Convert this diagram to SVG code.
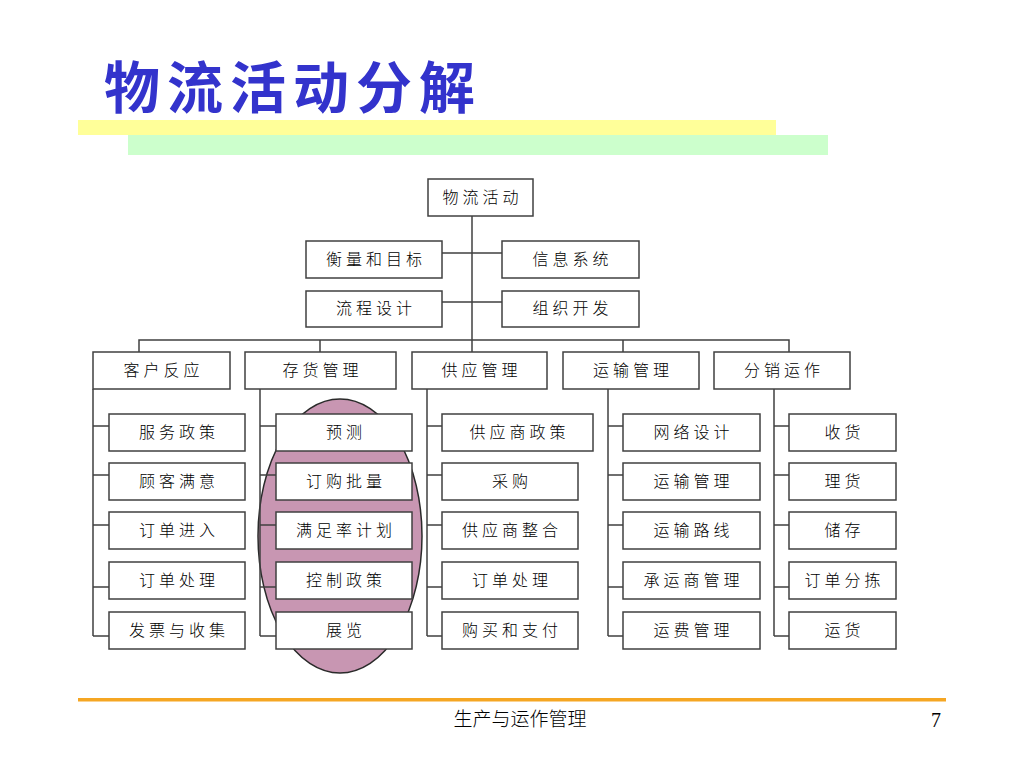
<svg xmlns="http://www.w3.org/2000/svg" width="1024" height="768" viewBox="0 0 1024 768">
<style>
.box{fill:#ffffff;stroke:#404040;stroke-width:1.5}
.lbl{font-family:"Noto Sans CJK SC","Noto Sans",sans-serif;font-size:16px;font-weight:300;fill:#000;text-anchor:middle;letter-spacing:4px}
.ln{fill:none;stroke:#404040;stroke-width:1.5}
</style>
<rect width="1024" height="768" fill="#ffffff"/>
<rect x="78" y="120" width="698" height="15" fill="#ffff99"/>
<rect x="128" y="135" width="700" height="20" fill="#ccffcc"/>
<text x="104" y="108" font-family="Noto Sans CJK SC, sans-serif" font-size="56" font-weight="bold" fill="#3333cc" letter-spacing="7">物流活动分解</text>

<ellipse id="highlight" cx="340" cy="536" rx="82" ry="137" fill="#c896b2" stroke="#2a2a2a" stroke-width="1.5"/>

<g id="connectors" class="ln">
<path d="M472 216V352"/>
<path d="M442 253H502M442 302H502"/>
<path d="M139 352V340H789V352M320 340V352M623 340V352"/>
<path d="M93 389V636M93 426H109M93 475H109M93 525H109M93 587H109M93 636H109"/>
<path d="M260 389V636M260 426H276M260 475H276M260 525H276M260 587H276M260 636H276"/>
<path d="M427 389V636M427 426H442M427 475H442M427 525H442M427 587H442M427 636H442"/>
<path d="M608 389V636M608 426H623M608 475H623M608 525H623M608 587H623M608 636H623"/>
<path d="M774 389V636M774 426H789M774 475H789M774 525H789M774 587H789M774 636H789"/>
</g>

<g id="n-root"><rect class="box" x="428" y="179" width="105" height="37"/><text class="lbl" x="482.5" y="203">物流活动</text></g>
<g id="n-hlmb"><rect class="box" x="306" y="241" width="136" height="37"/><text class="lbl" x="376" y="265">衡量和目标</text></g>
<g id="n-lcsj"><rect class="box" x="306" y="291" width="136" height="36"/><text class="lbl" x="376" y="314">流程设计</text></g>
<g id="n-xxxt"><rect class="box" x="502" y="241" width="137" height="37"/><text class="lbl" x="572.5" y="265">信息系统</text></g>
<g id="n-zzkf"><rect class="box" x="502" y="291" width="137" height="36"/><text class="lbl" x="572.5" y="314">组织开发</text></g>

<g id="n-khfy"><rect class="box" x="93" y="352" width="137" height="37"/><text class="lbl" x="163.5" y="376">客户反应</text></g>
<g id="n-chgl"><rect class="box" x="245" y="352" width="151" height="37"/><text class="lbl" x="322.5" y="376">存货管理</text></g>
<g id="n-gygl"><rect class="box" x="412" y="352" width="135" height="37"/><text class="lbl" x="481.5" y="376">供应管理</text></g>
<g id="n-ysgl"><rect class="box" x="563" y="352" width="136" height="37"/><text class="lbl" x="633" y="376">运输管理</text></g>
<g id="n-fxyz"><rect class="box" x="714" y="352" width="136" height="37"/><text class="lbl" x="784" y="376">分销运作</text></g>

<g id="n-c1-1"><rect class="box" x="109" y="414" width="136" height="37"/><text class="lbl" x="179" y="438">服务政策</text></g>
<g id="n-c1-2"><rect class="box" x="109" y="463" width="136" height="37"/><text class="lbl" x="179" y="487">顾客满意</text></g>
<g id="n-c1-3"><rect class="box" x="109" y="512" width="136" height="37"/><text class="lbl" x="179" y="536">订单进入</text></g>
<g id="n-c1-4"><rect class="box" x="109" y="562" width="136" height="37"/><text class="lbl" x="179" y="586">订单处理</text></g>
<g id="n-c1-5"><rect class="box" x="109" y="612" width="136" height="37"/><text class="lbl" x="179" y="636">发票与收集</text></g>

<g id="n-c2-1"><rect class="box" x="276" y="414" width="136" height="37"/><text class="lbl" x="346" y="438">预测</text></g>
<g id="n-c2-2"><rect class="box" x="276" y="463" width="136" height="37"/><text class="lbl" x="346" y="487">订购批量</text></g>
<g id="n-c2-3"><rect class="box" x="276" y="512" width="136" height="37"/><text class="lbl" x="346" y="536">满足率计划</text></g>
<g id="n-c2-4"><rect class="box" x="276" y="562" width="136" height="37"/><text class="lbl" x="346" y="586">控制政策</text></g>
<g id="n-c2-5"><rect class="box" x="276" y="612" width="136" height="37"/><text class="lbl" x="346" y="636">展览</text></g>

<g id="n-c3-1"><rect class="box" x="442" y="414" width="151" height="37"/><text class="lbl" x="519.5" y="438">供应商政策</text></g>
<g id="n-c3-2"><rect class="box" x="442" y="463" width="136" height="37"/><text class="lbl" x="512" y="487">采购</text></g>
<g id="n-c3-3"><rect class="box" x="442" y="512" width="136" height="37"/><text class="lbl" x="512" y="536">供应商整合</text></g>
<g id="n-c3-4"><rect class="box" x="442" y="562" width="136" height="37"/><text class="lbl" x="512" y="586">订单处理</text></g>
<g id="n-c3-5"><rect class="box" x="442" y="612" width="136" height="37"/><text class="lbl" x="512" y="636">购买和支付</text></g>

<g id="n-c4-1"><rect class="box" x="623" y="414" width="137" height="37"/><text class="lbl" x="693.5" y="438">网络设计</text></g>
<g id="n-c4-2"><rect class="box" x="623" y="463" width="137" height="37"/><text class="lbl" x="693.5" y="487">运输管理</text></g>
<g id="n-c4-3"><rect class="box" x="623" y="512" width="137" height="37"/><text class="lbl" x="693.5" y="536">运输路线</text></g>
<g id="n-c4-4"><rect class="box" x="623" y="562" width="137" height="37"/><text class="lbl" x="693.5" y="586">承运商管理</text></g>
<g id="n-c4-5"><rect class="box" x="623" y="612" width="137" height="37"/><text class="lbl" x="693.5" y="636">运费管理</text></g>

<g id="n-c5-1"><rect class="box" x="789" y="414" width="107" height="37"/><text class="lbl" x="844.5" y="438">收货</text></g>
<g id="n-c5-2"><rect class="box" x="789" y="463" width="107" height="37"/><text class="lbl" x="844.5" y="487">理货</text></g>
<g id="n-c5-3"><rect class="box" x="789" y="512" width="107" height="37"/><text class="lbl" x="844.5" y="536">储存</text></g>
<g id="n-c5-4"><rect class="box" x="789" y="562" width="107" height="37"/><text class="lbl" x="844.5" y="586">订单分拣</text></g>
<g id="n-c5-5"><rect class="box" x="789" y="612" width="107" height="37"/><text class="lbl" x="844.5" y="636">运货</text></g>

<rect x="78" y="698" width="868" height="3.5" fill="#f5a623"/>
<text x="520" y="726" font-family="Noto Sans CJK SC, sans-serif" font-size="19" font-weight="300" fill="#000" text-anchor="middle">生产与运作管理</text>
<text x="936" y="727" font-family="Liberation Serif, serif" font-size="20" fill="#000" text-anchor="middle">7</text>
</svg>
